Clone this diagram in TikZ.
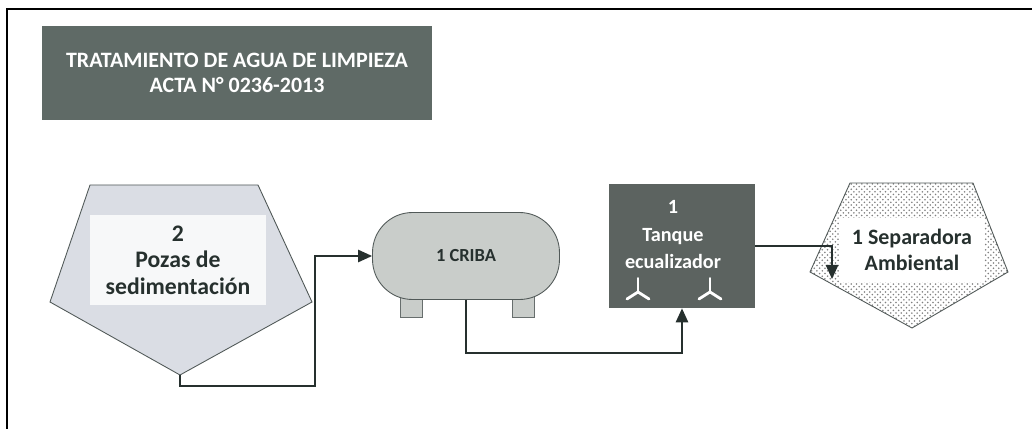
\documentclass[tikz,border=0pt]{standalone}
\usepackage{fontspec}
\setmainfont{Carlito}
\usetikzlibrary{patterns,arrows.meta}

\definecolor{titlegray}{RGB}{95,106,102}
\definecolor{tankgray}{RGB}{92,99,96}
\definecolor{pozafill}{RGB}{218,221,228}
\definecolor{cribafill}{RGB}{201,205,202}
\definecolor{linegray}{RGB}{38,48,46}

\tikzset{
  flow/.style={linegray, line width=1.1pt, -{Triangle[length=8pt,width=7pt]}},
  shapeline/.style={draw=linegray!80, line width=0.5pt},
  txtlabel/.style={font=\bfseries\fontsize{11}{13}\selectfont, align=center, text=linegray},
  mixer/.pic={
    \draw[white, line width=1pt, line cap=round] (0,0) -- (0,-14);
    \draw[white, line width=1.6pt, line cap=round] (0,0) -- (-11,7);
    \draw[white, line width=1.6pt, line cap=round] (0,0) -- (11,7);
  }
}

\begin{document}
\begin{tikzpicture}[x=0.02cm, y=-0.02cm]
  \useasboundingbox (0,0) rectangle (1032,429);
  % marco
  \draw[black, line width=1.3pt] (7,429) -- (7,9) -- (1032,9);

  % titulo
  \node[fill=titlegray, minimum width=7.8cm, minimum height=1.9cm, text=white,
        font=\bfseries\fontsize{12.5}{14}\selectfont, align=center] (titulo) at (237,73)
        {TRATAMIENTO DE AGUA DE LIMPIEZA\\ACTA N° 0236-2013};

  % pozas de sedimentacion
  \coordinate (ptl) at (90,185);
  \coordinate (ptr) at (258,185);
  \coordinate (pr) at (312,302);
  \coordinate (pbot) at (180,375);
  \coordinate (pl) at (50,302);
  \draw[shapeline, fill=pozafill] (ptl) -- (ptr) -- (pr) -- (pbot) -- (pl) -- cycle;
  \node[fill=white, fill opacity=0.8, text opacity=1, minimum width=3.54cm, minimum height=1.82cm,
        txtlabel, font=\bfseries\fontsize{13.5}{15}\selectfont] (pozas) at (178,260) {2\\Pozas de\\sedimentación};

  % criba
  \fill[cribafill, draw=linegray!70] (400,296) rectangle (422,317);
  \fill[cribafill, draw=linegray!70] (512,296) rectangle (534,317);
  \node[shapeline, fill=cribafill, rounded corners=0.8cm, minimum width=3.74cm, minimum height=1.74cm,
        txtlabel, font=\bfseries\fontsize{10.5}{12}\selectfont] (criba) at (466,256) {1 CRIBA};

  % tanque ecualizador
  \node[fill=tankgray, minimum width=2.92cm, minimum height=2.48cm] (tanque) at (682,246) {};
  \node[txtlabel, text=white, anchor=north, font=\bfseries\fontsize{11.5}{15.8}\selectfont]
        (tanquetxt) at (673,194) {1\\Tanque\\ecualizador};
  \pic at (638,292) {mixer};
  \pic at (710,292) {mixer};

  % separadora
  \coordinate (stl) at (850,183);
  \coordinate (str) at (973,183);
  \coordinate (sr) at (1008,272);
  \coordinate (sbot) at (912,328);
  \coordinate (sl) at (810,272);
  \fill[white] (stl) -- (str) -- (sr) -- (sbot) -- (sl) -- cycle;
  \draw[shapeline, pattern=crosshatch dots, pattern color=gray] (stl) -- (str) -- (sr) -- (sbot) -- (sl) -- cycle;
  \node[fill=white, minimum width=2.9cm, minimum height=1.3cm, txtlabel,
        font=\bfseries\fontsize{12.5}{14.5}\selectfont] (sep) at (912,250)
        {1 Separadora\\Ambiental};
  \coordinate (sin) at (832,279);

  % flujo
  \draw[flow] (pbot) |- (315,386) |- (criba.west);
  \draw[flow] (criba.south) -- ++(0,53) -| (tanque.south);
  \draw[flow] (tanque.east) -| (sin);
\end{tikzpicture}
\end{document}
